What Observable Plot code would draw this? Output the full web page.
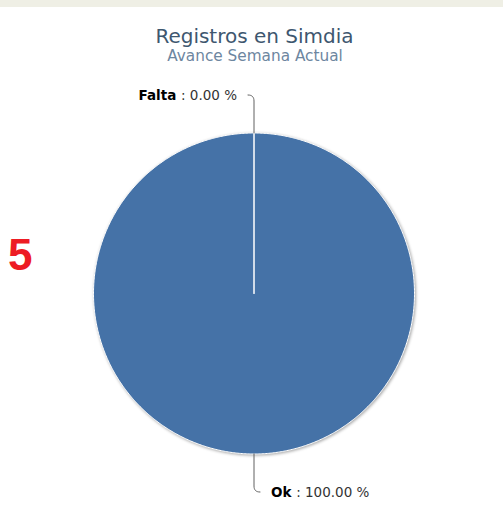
<!DOCTYPE html>
<html><head><meta charset="utf-8">
<script src="https://cdn.jsdelivr.net/npm/d3@7"></script>
<script src="https://cdn.jsdelivr.net/npm/@observablehq/plot@0.6"></script>
<style>
html,body{margin:0;padding:0;background:#fff;}
#wrap{position:relative;width:503px;height:525px;overflow:hidden;background:#fff;font-family:"DejaVu Sans",sans-serif;}
#band{position:absolute;left:0;top:0;width:503px;height:7px;background:#efefe5;}
#title{position:absolute;left:0;width:509px;top:26px;text-align:center;font-size:20px;line-height:20px;color:#3E576F;white-space:nowrap;}
#subtitle{position:absolute;left:0;width:510px;top:49px;text-align:center;font-size:15.3px;line-height:15px;color:#6D869F;white-space:nowrap;}
#mark{position:absolute;left:8px;top:233px;font:bold 44px "Liberation Sans",Arial,sans-serif;line-height:44px;color:#ed1c24;}
#chart{position:absolute;left:0;top:65px;}
</style></head>
<body>
<div id="wrap">
  <div id="band"></div>
  <div id="title">Registros en Simdia</div>
  <div id="subtitle">Avance Semana Actual</div>
  <div id="mark">5</div>
  <div id="chart"></div>
</div>
<script>
// ---- data ----
const categories = ["Falta", "Ok"];
const values = [0, 100];
const sliceColors = ["#AA4643", "#4572A7"];

// ---- layout ----
const W = 503, H = 460;
const R_PX = 160.5;
const CX = 253.5, CY = 228;
const u = 1 / R_PX; // data units per pixel

const total = d3.sum(values);
const data = categories.map((name, i) => ({
  name, value: values[i], color: sliceColors[i],
  label: name + " : " + (values[i] / total * 100).toFixed(2) + " %",
  pct: ": " + (values[i] / total * 100).toFixed(2) + " %"
}));
const arcs = d3.pie().sort(null).value(d => d.value)(data);

// slice polygons (angle 0 = top, clockwise)
const slicePts = [];
arcs.forEach((a, i) => {
  const d = a.data;
  slicePts.push({x: 0, y: 0, name: d.name, color: d.color, order: i});
  const span = a.endAngle - a.startAngle;
  const n = Math.max(1, Math.ceil(span / (Math.PI / 360)));
  for (let k = 0; k <= n; k++) {
    const t = a.startAngle + span * k / n;
    slicePts.push({x: Math.sin(t), y: Math.cos(t), name: d.name, color: d.color, order: i});
  }
  slicePts.push({x: 0, y: 0, name: d.name, color: d.color, order: i});
});

// connectors + label anchors
const connPts = [];
const labelPos = [];
arcs.forEach(a => {
  const d = a.data;
  const mid = (a.startAngle + a.endAngle) / 2;
  const sx = Math.sin(mid), sy = Math.cos(mid);
  const side = (mid > 1e-9 && mid <= Math.PI + 1e-9) ? 1 : -1; // right : left
  const r0 = 1, r1 = 1 + 32 * u, r2 = 1 + 38 * u;
  const p0 = [sx * r0, sy * r0];
  const p1 = [sx * r1, sy * r1];
  const c  = [sx * r2, sy * r2];
  const p2 = [c[0] + side * 6 * u, c[1]];
  connPts.push({x: p0[0], y: p0[1], name: d.name});
  for (let k = 0; k <= 8; k++) {
    const t = k / 8;
    const x = (1 - t) * (1 - t) * p1[0] + 2 * (1 - t) * t * c[0] + t * t * p2[0];
    const y = (1 - t) * (1 - t) * p1[1] + 2 * (1 - t) * t * c[1] + t * t * p2[1];
    connPts.push({x, y, name: d.name});
  }
  labelPos.push({x: c[0] + side * 17 * u, y: c[1] - 1 * u, side, name: d.name, label: d.label, pct: d.pct});
});

const chart = Plot.plot({
  width: W, height: H,
  marginLeft: CX - R_PX, marginRight: W - (CX + R_PX),
  marginTop: CY - R_PX, marginBottom: H - (CY + R_PX),
  x: {domain: [-1, 1], axis: null},
  y: {domain: [-1, 1], axis: null},
  style: {background: "transparent", overflow: "visible"},
  marks: [
    Plot.line(slicePts, {x: "x", y: "y", z: "order", fill: d => d.color, stroke: "#ffffff", strokeWidth: 1, curve: "linear", strokeLinejoin: "round"}),
    Plot.line(connPts, {x: "x", y: "y", z: "name", stroke: "#606060", strokeWidth: 1, fill: "none"}),
    Plot.text(labelPos.filter(d => d.side < 0), {x: "x", y: "y", text: "label", textAnchor: "end", fontSize: 13.5, fill: "#333333", fontFamily: "DejaVu Sans"}),
    Plot.text(labelPos.filter(d => d.side > 0), {x: "x", y: "y", text: "label", textAnchor: "start", fontSize: 13.5, fill: "#333333", fontFamily: "DejaVu Sans"})
  ]
});
document.getElementById("chart").appendChild(chart);

// shadow on the pie
const lineGroups = chart.querySelectorAll('g[aria-label="line"]');
if (lineGroups.length) lineGroups[0].style.filter = "drop-shadow(1px 1px 1.5px rgba(0,0,0,0.35))";

// rich labels: bold category name + value
const byLabel = new Map(labelPos.map(d => [d.label, d]));
chart.querySelectorAll("text").forEach(t => {
  const d = byLabel.get(t.textContent);
  if (!d) return;
  t.textContent = "";
  const b = document.createElementNS("http://www.w3.org/2000/svg", "tspan");
  b.setAttribute("font-weight", "bold");
  b.setAttribute("fill", "#000000");
  b.textContent = d.name + " ";
  const v = document.createElementNS("http://www.w3.org/2000/svg", "tspan");
  v.textContent = d.pct;
  t.appendChild(b); t.appendChild(v);
});
</script>
</body></html>
